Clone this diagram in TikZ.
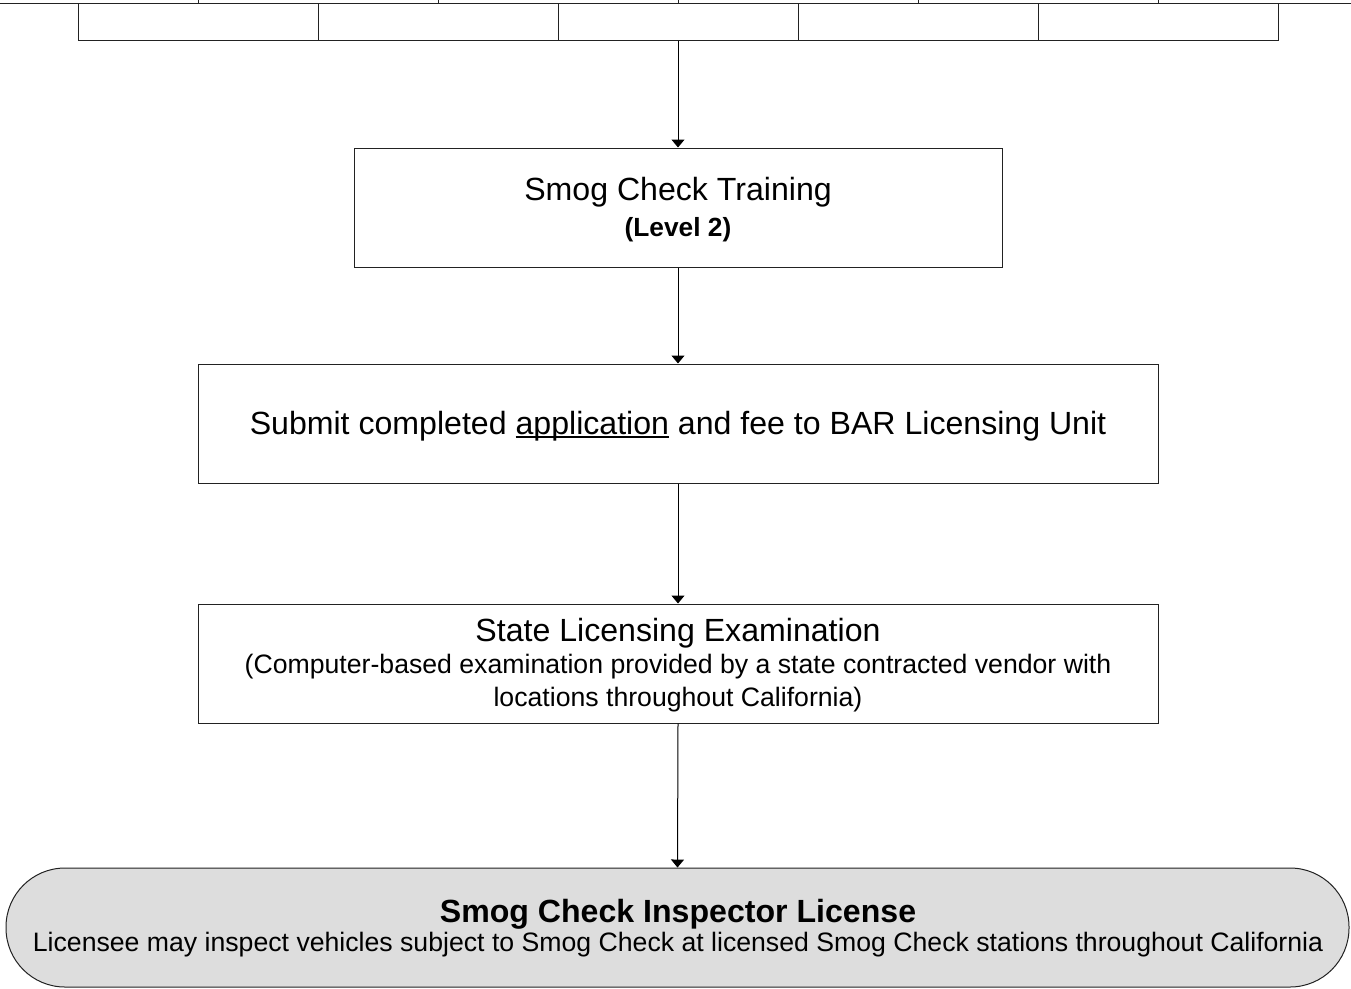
\documentclass[tikz,border=0pt]{standalone}
\usepackage{fontspec}
\setmainfont{Liberation Sans}
\usetikzlibrary{arrows.meta}
\definecolor{licgray}{HTML}{DDDDDD}
\definecolor{lineblk}{HTML}{222222}
\newcommand\bigtxt{\fontsize{32.1}{36}\selectfont}
\newcommand\smalltxt{\fontsize{26.65}{32}\selectfont}
\newcommand\lvltxt{\fontsize{26.3}{30}\selectfont\bfseries}
\newcommand\myul[1]{\setbox0\hbox{#1}\rlap{\rule[-4pt]{\wd0}{2.2pt}}\copy0\relax}
\tikzset{
  boxstyle/.style={draw=lineblk, line width=1pt, fill=white, inner sep=0pt},
  txt/.style={anchor=base, inner sep=0pt},
  conn/.style={draw=black, line width=1pt, -{Triangle[width=13pt,length=8pt]}},
}
\begin{document}
\begin{tikzpicture}[x=1pt,y=-1pt]
\useasboundingbox (0,0) rectangle (1351,988);
% row cut off at top
\draw[lineblk, line width=1pt] (0,3) -- (1351,3);
\foreach \xx in {198,438,678,918,1158} \draw[lineblk, line width=1pt] (\xx,0) -- (\xx,3);
\foreach \i/\xx in {1/198,2/438,3/678,4/918,5/1158}
  \node[boxstyle, minimum width=240pt, minimum height=37pt] (top\i) at (\xx,21.5) {};
% box 1
\node[boxstyle, minimum width=648pt, minimum height=119pt] (train) at (678,207.5) {};
\node[txt] (trainA) at (678,200.5) {\bigtxt Smog Check Training};
\node[txt] (trainB) at (678,236) {\lvltxt (Level 2)};
% box 2
\node[boxstyle, minimum width=960pt, minimum height=119pt] (appl) at (678,423.5) {};
\node[txt] (applA) at (678,434) {\bigtxt Submit completed \myul{application} and fee to BAR Licensing Unit};
% box 3
\node[boxstyle, minimum width=960pt, minimum height=119pt] (exam) at (678,663.5) {};
\node[txt] (examA) at (678,641.5) {\bigtxt State Licensing Examination};
\node[txt] (examB) at (678,673) {\smalltxt (Computer-based examination provided by a state contracted vendor with};
\node[txt] (examC) at (678,706) {\smalltxt locations throughout California)};
% license
\node[draw=lineblk, line width=1pt, fill=licgray, minimum width=1343pt, minimum height=119pt, rounded corners=59pt, inner sep=0pt] (lic) at (677.5,927.5) {};
\node[txt] (licA) at (678,922) {\bigtxt\bfseries Smog Check Inspector License};
\node[txt] (licB) at (678,951) {\smalltxt Licensee may inspect vehicles subject to Smog Check at licensed Smog Check stations throughout California};
% connectors
\draw[conn] (top3.south) -- (train.north);
\draw[conn] (train.south) -- (appl.north);
\draw[conn] (appl.south) -- (exam.north);
\draw[conn] (exam.south) -- (lic.north);
\end{tikzpicture}
\end{document}
